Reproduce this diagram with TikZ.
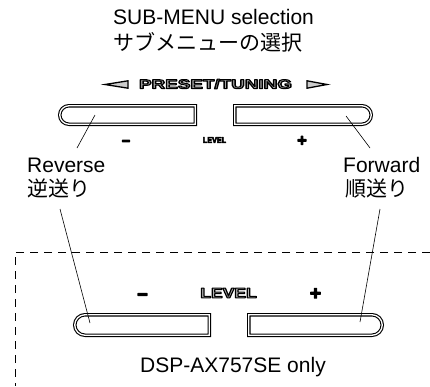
\documentclass[tikz,border=0pt]{standalone}
\usepackage{fontspec}
\setmainfont{Liberation Sans}
\newfontfamily\jpfont{Noto Sans CJK JP}
\usetikzlibrary{shapes.misc}
% text drawn filled and stroked (text render mode 2)
\newcommand{\outl}[3]{{\color{#1}\special{pdf:literal direct 0 G 2 Tr #2 w 1 j}#3\special{pdf:literal direct 0 Tr}}}
\tikzset{
  btn/.style={rounded rectangle, draw, double, double distance=1.3pt, line width=1.1pt,
    inner sep=0pt, outer sep=0pt},
  lbtn/.style={btn, rounded rectangle east arc=none},
  rbtn/.style={btn, rounded rectangle west arc=none},
  lbl/.style={font=\fontsize{21}{25}\selectfont, inner sep=0pt, anchor=base west},
  jlbl/.style={font=\jpfont\fontsize{21}{25}\selectfont, inner sep=0pt, anchor=base west},
  lead/.style={line width=0.6pt},
  dframe/.style={dash pattern=on 8pt off 6pt, line width=0.8pt},
  tri/.style={draw, line width=1.3pt, fill=gray!40, line join=miter},
  sym/.style={inner sep=0pt, font=\bfseries},
}
\begin{document}
\begin{tikzpicture}[x=1pt,y=-1pt]
\useasboundingbox (0,0) rectangle (430,386);
% title
\node[lbl] (t1) at (113,24) {SUB-MENU selection};
\node[jlbl] (t2) at (113,50) {サブメニューの選択};
% PRESET/TUNING
\node[sym, font=\bfseries\fontsize{13}{15}\selectfont] (pt) at (215.5,84)
  {\scalebox{1.45}[1]{\outl{black!35}{1.0}{PRESET/TUNING}}};
\draw[tri] (105,84.5) -- (128,80.8) -- (128,88.2) -- cycle;
\draw[tri] (327,84.5) -- (307,80.8) -- (307,88.2) -- cycle;
% top buttons
\node[lbtn, minimum width=135.5pt, minimum height=18.5pt] (tl) at (127.5,115) {};
\node[rbtn, minimum width=136.5pt, minimum height=18.5pt] (tr) at (303,115) {};
\node[sym, font=\bfseries\fontsize{14}{16}\selectfont] (tm) at (126,142.5) {\outl{black}{1.4}{–}};
\node[sym, font=\bfseries\fontsize{16}{18}\selectfont] (tp) at (302,141) {\outl{black}{1.2}{+}};
\node[sym, font=\bfseries\fontsize{8.5}{10}\selectfont] (tlev) at (214.5,140) {\scalebox{0.85}[1]{\outl{black}{0.6}{LEVEL}}};
% labels
\node[lbl] (rev) at (27,172) {Reverse};
\node[jlbl] (revj) at (27,196) {逆送り};
\node[lbl] (fwd) at (343,172) {Forward};
\node[jlbl] (fwdj) at (345,196) {順送り};
% dashed frame
\coordinate (fa) at (430,252);
\coordinate (fb) at (15,252);
\coordinate (fc) at (15,386);
\draw[dframe] (fa) -- (fb) -- (fc);
% bottom buttons
\node[lbtn, minimum width=134.5pt, minimum height=20.5pt] (bl) at (142,325) {};
\node[rbtn, minimum width=133.5pt, minimum height=20.5pt] (br) at (315.5,325) {};
\node[sym, font=\bfseries\fontsize{18}{20}\selectfont] (bm) at (142.5,296.5) {\outl{black}{1.5}{–}};
\node[sym, font=\bfseries\fontsize{19}{22}\selectfont] (bp) at (315.5,294) {\outl{black}{1.3}{+}};
\node[sym, font=\bfseries\fontsize{14}{16}\selectfont] (blev) at (228.5,293)
  {\scalebox{1.25}[1]{\outl{black!30}{1.0}{LEVEL}}};
\node[lbl] (dsp) at (140,372) {DSP-AX757SE only};
% leader lines
\coordinate (revA) at (77,148);
\coordinate (tlP) at (95,115);
\coordinate (fwdA) at (370,148);
\coordinate (trP) at (346,116);
\coordinate (revB) at (60,209);
\coordinate (blP) at (90,323);
\coordinate (fwdB) at (380,209);
\coordinate (brP) at (360,322);
\draw[lead] (revA) -- (tlP);
\draw[lead] (fwdA) -- (trP);
\draw[lead] (revB) -- (blP);
\draw[lead] (fwdB) -- (brP);
\end{tikzpicture}
\end{document}
